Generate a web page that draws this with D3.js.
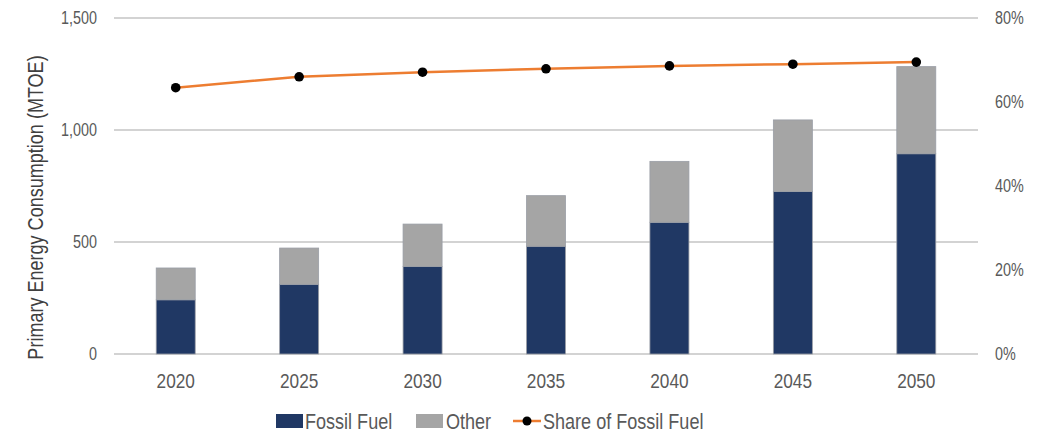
<!DOCTYPE html>
<html>
<head>
<meta charset="utf-8">
<script src="https://cdn.jsdelivr.net/npm/d3@7"></script>
<style>
  html, body { margin: 0; padding: 0; background: #fff; }
  svg { display: block; font-family: "Liberation Sans", Arial, sans-serif; }
</style>
</head>
<body>
<svg id="chart" width="1046" height="434"></svg>
<script>
// Primary energy consumption outlook (MTOE) and fossil fuel share
const years = ["2020", "2025", "2030", "2035", "2040", "2045", "2050"];
const fossilFuel = [242, 311, 391, 481, 588, 725, 894];
const other = [142, 162, 189, 226, 272, 320, 389];
const fossilShare = [0.634, 0.660, 0.671, 0.679, 0.686, 0.690, 0.695];
const leftTicks = [0, 500, 1000, 1500];
const rightTicks = [0, 0.2, 0.4, 0.6, 0.8];
const seriesNames = ["Fossil Fuel", "Other", "Share of Fossil Fuel"];

const colors = { fossil: "#203864", other: "#A5A5A5", share: "#ED7D31" };

// Narrow-style lettering: condense labels horizontally
const NARROW = 0.82;

const svg = d3.select("#chart");
const plot = { left: 114, right: 978, top: 18, bottom: 354 };

const x = d3.scaleBand()
  .domain(years)
  .range([plot.left, plot.right])
  .paddingInner(0.684)
  .paddingOuter(0.342);

const y = d3.scaleLinear().domain([0, 1500]).range([plot.bottom, plot.top]);
const y2 = d3.scaleLinear().domain([0, 0.8]).range([plot.bottom, plot.top]);

// Gridlines from the primary axis
svg.append("g")
  .selectAll("line")
  .data(leftTicks)
  .join("line")
  .attr("x1", plot.left)
  .attr("x2", plot.right)
  .attr("y1", d => y(d))
  .attr("y2", d => y(d))
  .attr("stroke", "#c4c4c4")
  .attr("stroke-width", 1.5);

// Left axis
const leftAxis = svg.append("g")
  .attr("transform", `translate(${plot.left},0)`)
  .call(d3.axisLeft(y).tickValues(leftTicks).tickFormat(d3.format(",")).tickSize(0).tickPadding(17));
leftAxis.select(".domain").remove();
leftAxis.selectAll("text").attr("fill", "#595959").attr("font-size", 17.5).attr("font-family", null);

// Right axis
const rightAxis = svg.append("g")
  .attr("transform", `translate(${plot.right},0)`)
  .call(d3.axisRight(y2).tickValues(rightTicks).tickFormat(d3.format(".0%")).tickSize(0).tickPadding(17));
rightAxis.select(".domain").remove();
rightAxis.selectAll("text").attr("fill", "#595959").attr("font-size", 17.5).attr("font-family", null);

// Bottom axis
const bottomAxis = svg.append("g")
  .attr("transform", `translate(0,${plot.bottom})`)
  .call(d3.axisBottom(x).tickSize(0).tickPadding(19));
bottomAxis.select(".domain").remove();
bottomAxis.selectAll("text").attr("fill", "#595959").attr("font-size", 21).attr("font-family", null);

// Stacked bars
const rows = years.map((yr, i) => ({ year: yr, fossil: fossilFuel[i], other: other[i] }));
const stack = d3.stack().keys(["fossil", "other"])(rows);

svg.append("g")
  .selectAll("g")
  .data(stack)
  .join("g")
  .attr("fill", d => colors[d.key])
  .selectAll("rect")
  .data(d => d)
  .join("rect")
  .attr("x", d => x(d.data.year))
  .attr("width", x.bandwidth())
  .attr("y", d => y(d[1]))
  .attr("height", d => y(d[0]) - y(d[1]))
  .attr("stroke", "#9a9ea6")
  .attr("stroke-width", 0.8);

// Share line
const line = d3.line()
  .x((d, i) => x(years[i]) + x.bandwidth() / 2)
  .y(d => y2(d));

svg.append("path")
  .datum(fossilShare)
  .attr("fill", "none")
  .attr("stroke", colors.share)
  .attr("stroke-width", 2.5)
  .attr("d", line);

svg.append("g")
  .selectAll("circle")
  .data(fossilShare)
  .join("circle")
  .attr("cx", (d, i) => x(years[i]) + x.bandwidth() / 2)
  .attr("cy", d => y2(d))
  .attr("r", 4.8)
  .attr("fill", "#000");

// Legend
const legend = svg.append("g").attr("font-size", 22).attr("fill", "#595959");
const legendY = 421;

legend.append("rect").attr("x", 276).attr("y", legendY - 7).attr("width", 27).attr("height", 14).attr("fill", colors.fossil);
legend.append("text").attr("x", 305).attr("y", legendY).attr("dy", "0.36em").text(seriesNames[0]);

legend.append("rect").attr("x", 416).attr("y", legendY - 7).attr("width", 27).attr("height", 14).attr("fill", colors.other);
legend.append("text").attr("x", 446).attr("y", legendY).attr("dy", "0.36em").text(seriesNames[1]);

legend.append("line").attr("x1", 513).attr("x2", 541).attr("y1", legendY).attr("y2", legendY)
  .attr("stroke", colors.share).attr("stroke-width", 2.5);
legend.append("circle").attr("cx", 527).attr("cy", legendY).attr("r", 4.5).attr("fill", "#000");
legend.append("text").attr("x", 543).attr("y", legendY).attr("dy", "0.36em").text(seriesNames[2]);

// Condense horizontal labels to a narrow face width
svg.selectAll("text").each(function () {
  const w = this.getComputedTextLength();
  d3.select(this).attr("textLength", w * NARROW).attr("lengthAdjust", "spacingAndGlyphs");
});

// Axis title (rotated, condensed along its reading direction)
svg.append("text")
  .attr("transform", `translate(42.5,207.5) rotate(-90) scale(${NARROW},1)`)
  .attr("text-anchor", "middle")
  .attr("fill", "#404040")
  .attr("font-size", 22)
  .text("Primary Energy Consumption (MTOE)");
</script>
</body>
</html>
